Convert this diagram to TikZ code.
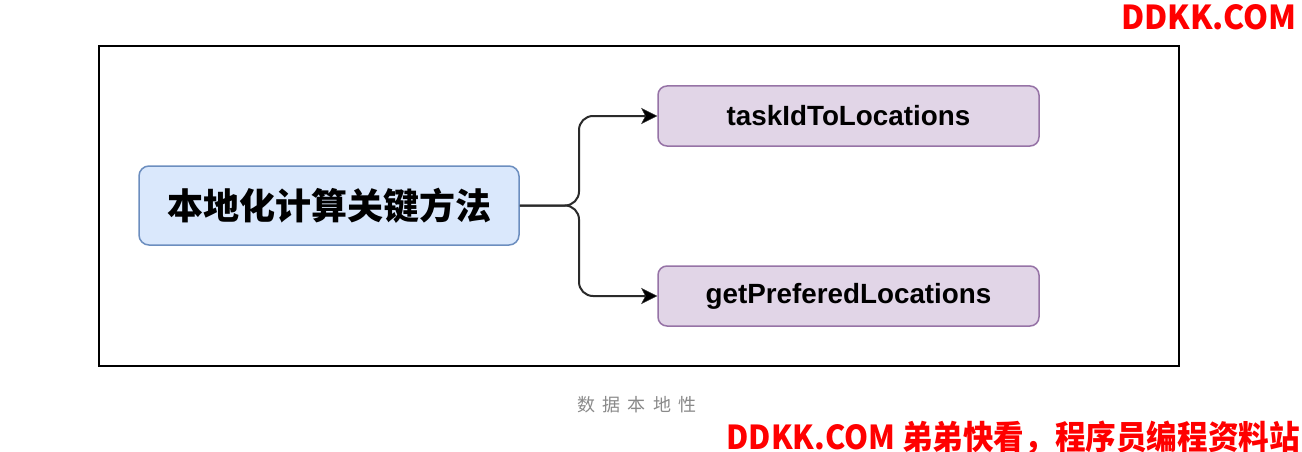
\documentclass[tikz,border=0pt]{standalone}
\usepackage{fontspec}
\setmainfont{Liberation Sans}
\newfontfamily\cjk{Noto Sans CJK SC}
\usetikzlibrary{arrows.meta}
\definecolor{bluefill}{HTML}{DAE8FC}
\definecolor{bluedraw}{HTML}{6C8EBF}
\definecolor{purfill}{HTML}{E1D5E7}
\definecolor{purdraw}{HTML}{9673A6}
\definecolor{linec}{HTML}{2A2A2A}
\definecolor{capgray}{HTML}{8A8A8A}
\definecolor{wmred}{HTML}{FF0000}
\tikzset{
  mainbox/.style={draw=bluedraw, fill=bluefill, line width=1.5pt, rounded corners=10pt,
    minimum width=380pt, minimum height=79pt, inner sep=0pt,
    font=\cjk\bfseries\fontsize{36}{42}\selectfont},
  leafbox/.style={draw=purdraw, fill=purfill, line width=1.5pt, rounded corners=9pt,
    minimum width=381pt, minimum height=60pt, inner sep=0pt,
    font=\bfseries\fontsize{27.8}{32}\selectfont},
  conn/.style={draw=linec, line width=2pt, rounded corners=14pt,
    -{Stealth[length=16pt,width=16pt,inset=4pt,fill=black,line width=0.5pt]}},
  frame/.style={draw=black, line width=2pt},
  caption/.style={text=capgray, font=\cjk\fontsize{18}{22}\selectfont, inner sep=0pt},
  wm/.style={text=wmred, font=\cjk\bfseries\fontsize{33}{38}\selectfont, inner sep=0pt},
}
\begin{document}
\begin{tikzpicture}[x=1pt,y=-1pt]
\useasboundingbox (0,0) rectangle (1302,452);
\fill[white] (0,0) rectangle (1302,452);
\draw[frame] (98.5,46.5) rectangle (1179,366);
\node[mainbox] (main) at (329,205.5) {本地化计算关键方法};
\node[leafbox] (t1) at (848.5,116) {taskIdToLocations};
\node[leafbox] (t2) at (848.5,296) {getPreferedLocations};
\draw[conn] (main.east) -- (579,205.5) -- (579,116) -- (t1.west);
\draw[conn] (main.east) -- (579,205.5) -- (579,296) -- (t2.west);
\node[caption] (cap) at (637,405) {数\hspace{7.5pt}据\hspace{7.5pt}本\hspace{7.5pt}地\hspace{7.5pt}性};
\node[wm, anchor=north east] (wm1) at (1297,4) {\scalebox{0.966}[1]{DDKK.COM}};
\node[wm, anchor=south east] (wm2) at (1300,455) {\scalebox{0.927}[1]{DDKK.COM 弟弟快看，程序员编程资料站}};
\end{tikzpicture}
\end{document}
